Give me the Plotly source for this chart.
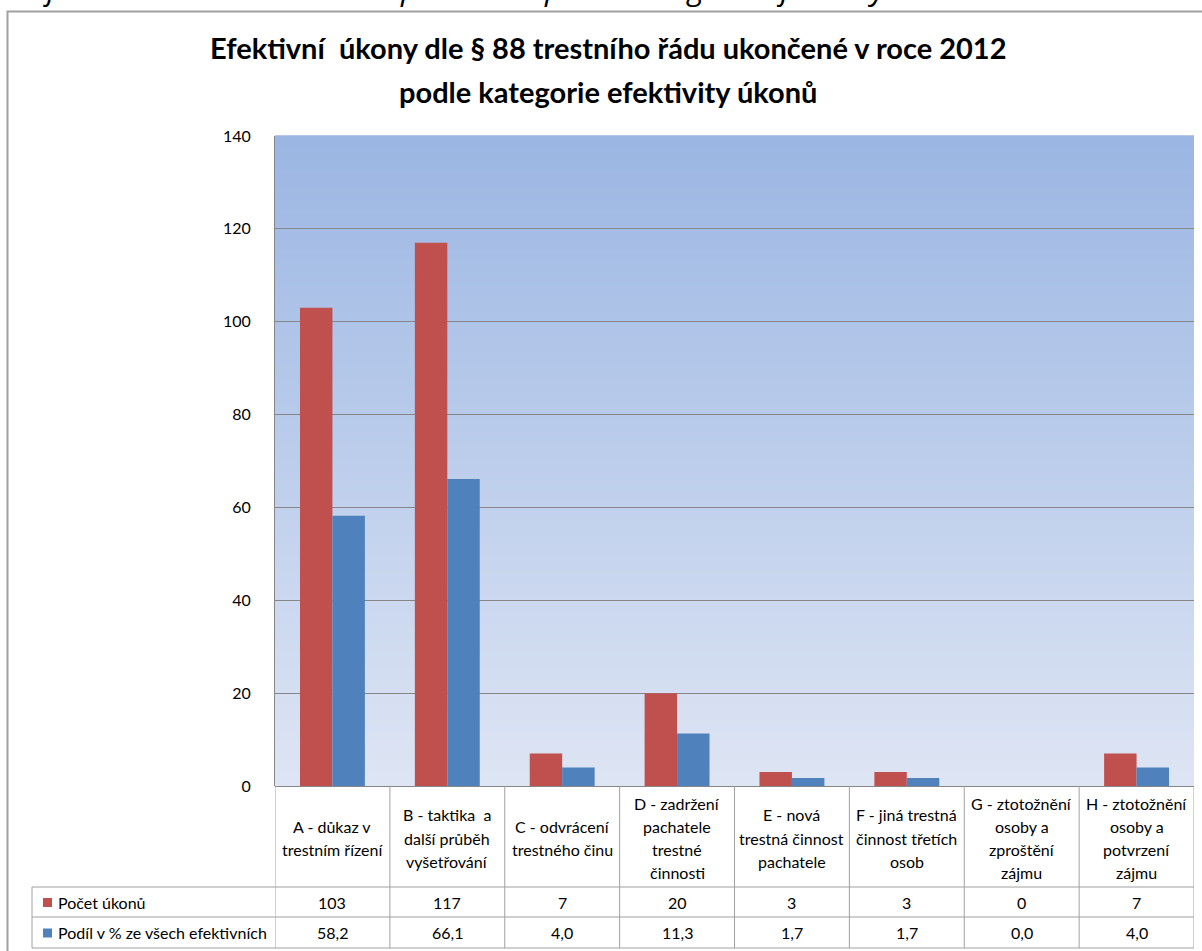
import plotly.graph_objects as go

# ---------------- data ----------------
categories = [
    "A - důkaz v<br>trestním řízení",
    "B - taktika  a<br>další průběh<br>vyšetřování",
    "C - odvrácení<br>trestného činu",
    "D - zadržení<br>pachatele<br>trestné<br>činnosti",
    "E - nová<br>trestná činnost<br>pachatele",
    "F - jiná trestná<br>činnost třetích<br>osob",
    "G - ztotožnění<br>osoby a<br>zproštění<br>zájmu",
    "H - ztotožnění<br>osoby a<br>potvrzení<br>zájmu",
]
series_names = ["Počet úkonů", "Podíl v % ze všech efektivních"]
pocet_ukonu = [103, 117, 7, 20, 3, 3, 0, 7]
podil_pct = [58.2, 66.1, 4.0, 11.3, 1.7, 1.7, 0.0, 4.0]
y_ticks = [0, 20, 40, 60, 80, 100, 120, 140]
title_lines = ["Efektivní  úkony dle § 88 trestního řádu ukončené v roce 2012",
               "podle kategorie efektivity úkonů"]
caption_text = "Graf č. 3: Porovnání úkonů uspořádaná podle kategorie efektivity"

# ---------------- layout constants ----------------
W, H = 1202, 951
PL, PR, PT, PB = 275, 1194, 136, 786   # plot area in pixels
RED = "#C0504D"
BLUE = "#4F81BD"
GRID = "#868686"
TBL = "#a0a0a0"
FONT = "Lato"
FS = 16

def px_x(px):
    return (px - PL) / (PR - PL)

def px_y(py):
    return (PB - py) / (PB - PT)

idx = list(range(len(categories)))

fig = go.Figure()
fig.add_trace(go.Bar(x=idx, y=pocet_ukonu, name=series_names[0],
                     marker=dict(color=RED, line=dict(width=0))))
fig.add_trace(go.Bar(x=idx, y=podil_pct, name=series_names[1],
                     marker=dict(color=BLUE, line=dict(width=0))))

shapes = []
# gradient background bands for plot area
n = 130
top = (155, 182, 227)
bot = (222, 229, 244)
for i in range(n):
    t = i / (n - 1)
    c = tuple(round(top[k] + (bot[k] - top[k]) * t) for k in range(3))
    shapes.append(dict(type="rect", xref="x domain", yref="y domain",
                       x0=0, x1=1, y0=1 - (i + 1) / n, y1=1 - i / n + 0.001,
                       fillcolor="rgb(%d,%d,%d)" % c, line=dict(width=0),
                       layer="below"))

# outer chart border
shapes.append(dict(type="rect", xref="paper", yref="paper",
                   x0=px_x(7.5), x1=px_x(1215), y0=px_y(11.5), y1=px_y(965),
                   line=dict(color=TBL, width=2), fillcolor="rgba(0,0,0,0)"))

# data table lines
row_tops = [787, 887, 917, 948]
for py in row_tops[1:]:
    shapes.append(dict(type="line", xref="paper", yref="paper",
                       x0=px_x(32), x1=px_x(PR), y0=px_y(py), y1=px_y(py),
                       line=dict(color=TBL, width=1)))
for i in range(len(categories) + 1):
    shapes.append(dict(type="line", xref="x", yref="paper",
                       x0=i - 0.5, x1=i - 0.5, y0=px_y(786), y1=px_y(948),
                       line=dict(color=TBL, width=1)))
shapes.append(dict(type="line", xref="paper", yref="paper",
                   x0=px_x(32), x1=px_x(32), y0=px_y(887), y1=px_y(948),
                   line=dict(color=TBL, width=1)))
# legend keys
for j, col in enumerate([RED, BLUE]):
    cy = (row_tops[j + 1] + row_tops[j + 2]) / 2
    shapes.append(dict(type="rect", xref="paper", yref="paper",
                       x0=px_x(43), x1=px_x(52), y0=px_y(cy + 5), y1=px_y(cy - 4),
                       fillcolor=col, line=dict(width=0)))

annotations = []
# caption (cut off at top edge, as in the source page)
annotations.append(dict(text="<i>" + caption_text + "</i>", xref="paper", yref="paper",
                        x=px_x(-6), y=px_y(11), xanchor="left", yanchor="bottom",
                        showarrow=False, font=dict(family="Open Sans", size=31, color="#000")))
# title
for k, (line, cy) in enumerate(zip(title_lines, [47, 92])):
    annotations.append(dict(text="<b>" + line + "</b>", xref="paper", yref="paper",
                            x=px_x(608), y=px_y(cy), xanchor="center", yanchor="middle",
                            showarrow=False, align="center",
                            font=dict(family=FONT, size=29, color="#000")))
# category header labels (one annotation per line for Excel-like line spacing)
LINE_H = 23.3
for i, lab in enumerate(categories):
    parts = lab.split("<br>")
    for k, part in enumerate(parts):
        cy = 838 + (k - (len(parts) - 1) / 2) * LINE_H
        annotations.append(dict(text=part, xref="x", yref="paper", x=i, y=px_y(cy),
                                xanchor="center", yanchor="middle", showarrow=False,
                                font=dict(family=FONT, size=FS, color="#000")))
# table values
for j, vals in enumerate([pocet_ukonu, podil_pct]):
    cy = (row_tops[j + 1] + row_tops[j + 2]) / 2
    for i, v in enumerate(vals):
        txt = str(v) if j == 0 else ("%.1f" % v).replace(".", ",")
        annotations.append(dict(text=txt, xref="x", yref="paper", x=i, y=px_y(cy),
                                xanchor="center", yanchor="middle", showarrow=False,
                                font=dict(family=FONT, size=FS, color="#000")))
    annotations.append(dict(text=series_names[j], xref="paper", yref="paper",
                            x=px_x(56), y=px_y(cy), xanchor="left", yanchor="middle",
                            showarrow=False, font=dict(family=FONT, size=FS, color="#000")))

fig.update_layout(
    width=W, height=H,
    margin=dict(l=PL, r=W - PR, t=PT, b=H - PB, pad=0),
    paper_bgcolor="white", plot_bgcolor="#c6d3ed",
    barmode="group", bargap=0.435, bargroupgap=0,
    showlegend=False,
    shapes=shapes, annotations=annotations,
    font=dict(family=FONT, size=FS, color="#000"),
)
fig.update_xaxes(range=[-0.5, len(categories) - 0.5], showticklabels=False,
                 showgrid=False, zeroline=False, showline=False, fixedrange=True)
fig.update_yaxes(range=[0, 140], tickvals=y_ticks, showgrid=True, gridcolor=GRID,
                 gridwidth=1, zeroline=True, zerolinecolor=GRID, zerolinewidth=1,
                 showline=True, linecolor=GRID, linewidth=1,
                 ticks="", ticklabelstandoff=20,
                 tickfont=dict(family=FONT, size=FS, color="#000"))

fig.write_html("out.html", config={"displayModeBar": False})

# remove the browser's default page margin so the figure sits at (0, 0)
with open("out.html", encoding="utf-8") as f:
    html = f.read()
html = html.replace("<body>", '<body style="margin:0;overflow:hidden">', 1)
with open("out.html", "w", encoding="utf-8") as f:
    f.write(html)
